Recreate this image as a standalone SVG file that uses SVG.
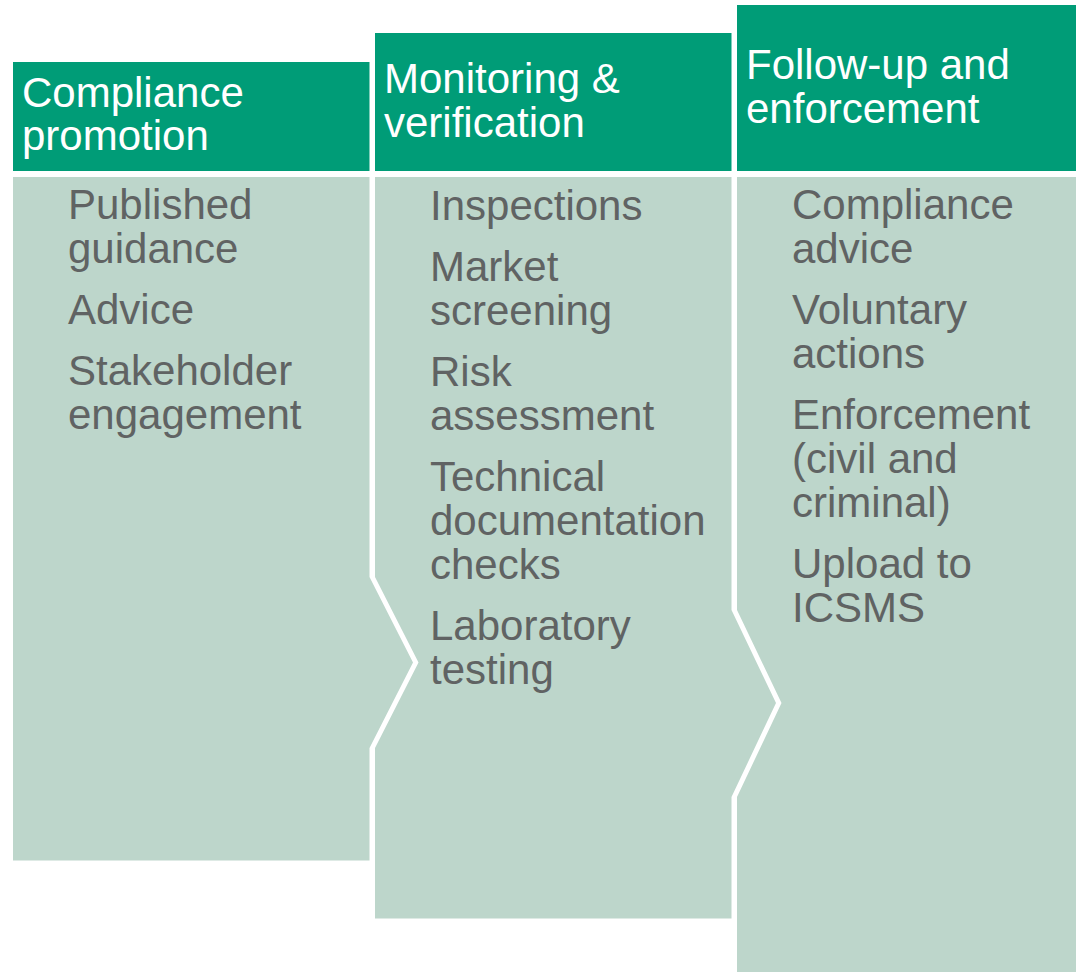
<svg xmlns="http://www.w3.org/2000/svg" width="1076" height="972" viewBox="0 0 1076 972">
<style>
.hdr{fill:#009C77}
.body{fill:#BDD6CB}
.ht{font-family:"Liberation Sans",Arial,sans-serif;font-size:42px;fill:#FFFFFF}
.bt{font-family:"Liberation Sans",Arial,sans-serif;font-size:42px;fill:#606363}
</style>
<rect width="1076" height="972" fill="#FFFFFF"/>
<g id="col1">
<rect class="hdr" x="13" y="62" width="356.5" height="109"/>
<polygon class="body" points="13,177 369.5,177 369.5,577 413,662.5 369.5,748 369.5,860.5 13,860.5"/>
<text class="ht" x="22"><tspan x="22" y="107">Compliance</tspan><tspan x="22" y="150">promotion</tspan></text>
<text class="bt"><tspan x="68" y="219">Published</tspan><tspan x="68" y="263">guidance</tspan><tspan x="68" y="324">Advice</tspan><tspan x="68" y="385">Stakeholder</tspan><tspan x="68" y="429">engagement</tspan></text>
</g>
<g id="col2">
<rect class="hdr" x="375" y="33" width="356.5" height="138"/>
<polygon class="body" points="375,177 731.5,177 731.5,610 776,703 731.5,797 731.5,918.5 375,918.5 375,748 418.5,662.5 375,577"/>
<text class="ht"><tspan x="384" y="93">Monitoring &amp;</tspan><tspan x="384" y="137">verification</tspan></text>
<text class="bt"><tspan x="430" y="220">Inspections</tspan><tspan x="430" y="281">Market</tspan><tspan x="430" y="325">screening</tspan><tspan x="430" y="386">Risk</tspan><tspan x="430" y="430">assessment</tspan><tspan x="430" y="491">Technical</tspan><tspan x="430" y="535">documentation</tspan><tspan x="430" y="579">checks</tspan><tspan x="430" y="640">Laboratory</tspan><tspan x="430" y="684">testing</tspan></text>
</g>
<g id="col3">
<rect class="hdr" x="737" y="5" width="339" height="166"/>
<polygon class="body" points="737,177 1076,177 1076,972 737,972 737,797 781.5,703 737,610"/>
<text class="ht"><tspan x="746" y="79">Follow-up and</tspan><tspan x="746" y="123">enforcement</tspan></text>
<text class="bt"><tspan x="792" y="219">Compliance</tspan><tspan x="792" y="263">advice</tspan><tspan x="792" y="324">Voluntary</tspan><tspan x="792" y="368">actions</tspan><tspan x="792" y="429">Enforcement</tspan><tspan x="792" y="473">(civil and</tspan><tspan x="792" y="517">criminal)</tspan><tspan x="792" y="578">Upload to</tspan><tspan x="792" y="622">ICSMS</tspan></text>
</g>
<g id="connectors"></g>
</svg>
